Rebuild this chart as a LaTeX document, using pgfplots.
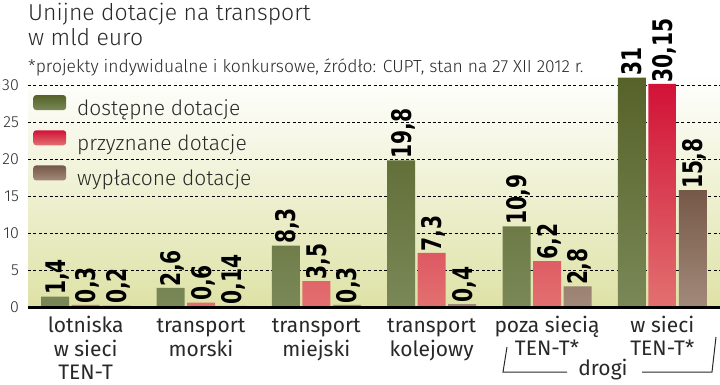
\documentclass[border=0pt]{standalone}
\usepackage{pgfplots}
\pgfplotsset{compat=1.18}
\usepackage{fontspec}
\IfFontExistsTF{Fira Sans Light}{\setmainfont{Fira Sans Light}}{\setmainfont{Fira Sans}}
\newfontfamily\labfont{Fira Sans}
\newfontfamily\numfont{DejaVu Sans}[FakeStretch=0.75]
\definecolor{gTop}{RGB}{86,98,40}
\definecolor{gBot}{RGB}{122,136,88}
\definecolor{rTop}{RGB}{210,18,55}
\definecolor{rBot}{RGB}{226,112,112}
\definecolor{bTop}{RGB}{118,88,72}
\definecolor{bBot}{RGB}{162,138,122}
\definecolor{bgBot}{RGB}{222,226,166}
\definecolor{txt}{RGB}{40,40,40}
\begin{document}
\begin{tikzpicture}
\useasboundingbox (0,0) rectangle (720pt,384pt);
\begin{axis}[
  at={(28pt,77pt)}, anchor=south west,
  scale only axis, width=692pt, height=233.1pt,
  xmin=-0.5, xmax=5.5, ymin=0, ymax=31.5,
  ybar=2.5pt, bar width=28pt,
  axis line style={draw=none},
  major tick length=0pt,
  clip=false,
  axis background/.style={top color=white, bottom color=bgBot},
  /pgf/number format/.cd, use comma, assume math mode=true, 1000 sep={},
  /pgfplots/.cd,
  ytick={0,5,...,30},
  ymajorgrids,
  major grid style={black, line width=0.7pt, dash pattern=on 3pt off 2.4pt},
  yticklabel style={font=\fontsize{16}{16}\selectfont, text=txt, anchor=east, inner sep=0pt, xshift=-9pt},
  xtick={0,...,5},
  xticklabels={{\strut lotniska\\w sieci\\TEN-T},{\strut transport\\morski},{\strut transport\\miejski},{\strut transport\\kolejowy},{\strut poza siecią\\TEN-T*},{\strut w sieci\\TEN-T*}},
  xticklabel style={align=center, font=\labfont\fontsize{21}{23}\selectfont, text=txt, anchor=north, inner sep=0pt, yshift=-9pt},
  nodes near coords,
  nodes near coords style={rotate=90, anchor=west, inner sep=1.5pt, text depth=0pt, font=\numfont\bfseries\fontsize{27}{27}\selectfont, text=black},
  legend style={at={(0,1)}, anchor=north west, xshift=5pt, yshift=-21pt, draw=none, fill=none,
    font=\fontsize{21}{21}\selectfont, text=txt, row sep=13.5pt, column sep=11pt, inner sep=0pt,
    nodes={inner sep=0pt}},
  legend cell align=left,
]
\addplot[draw=none, top color=gTop, bottom color=gBot,
  legend image code/.code={\path[top color=gTop, bottom color=gBot, rounded corners=3pt] (0pt,-2pt) rectangle (33pt,13pt);}]
  coordinates {(0,1.4) (1,2.6) (2,8.3) (3,19.8) (4,10.9) (5,31)};
\addplot[draw=none, top color=rTop, bottom color=rBot,
  legend image code/.code={\path[top color=rTop, bottom color=rBot, rounded corners=3pt] (0pt,-2pt) rectangle (33pt,13pt);}]
  coordinates {(0,0.3) (1,0.6) (2,3.5) (3,7.3) (4,6.2) (5,30.15)};
\addplot[draw=none, top color=bTop, bottom color=bBot,
  legend image code/.code={\path[top color=bTop, bottom color=bBot, rounded corners=3pt] (0pt,-2pt) rectangle (33pt,13pt);}]
  coordinates {(0,0.2) (1,0.14) (2,0.3) (3,0.4) (4,2.8) (5,15.8)};
\legend{dostępne dotacje, przyznane dotacje, wypłacone dotacje}
\draw[line width=3pt, black] (axis cs:-0.5,0) -- (axis cs:5.5,0);
\end{axis}
\node[anchor=base west, inner sep=0pt, font=\fontsize{23}{23}\selectfont, text=txt] at (28pt,363pt) {Unijne dotacje na transport};
\node[anchor=base west, inner sep=0pt, font=\fontsize{23}{23}\selectfont, text=txt] at (28pt,338pt) {w mld euro};
\node[anchor=base west, inner sep=0pt, font=\fontsize{17.5}{17.5}\selectfont, text=txt] at (28pt,312pt) {*projekty indywidualne i konkursowe, źródło: CUPT, stan na 27 XII 2012 r.};
\draw[line width=1pt, txt] (507pt,37pt) -- (503pt,12pt) -- (567pt,12pt);
\draw[line width=1pt, txt] (642pt,12pt) -- (712pt,12pt) -- (716pt,47pt);
\node[anchor=base, inner sep=0pt, font=\labfont\fontsize{21}{21}\selectfont, text=txt] at (603pt,9pt) {drogi};
\end{tikzpicture}
\end{document}
